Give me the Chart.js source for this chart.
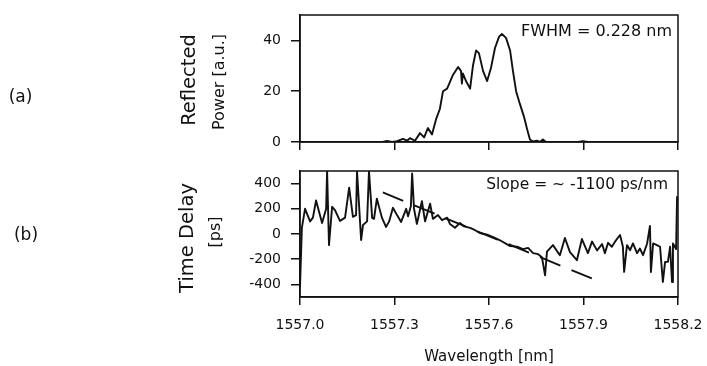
<!DOCTYPE html>
<html><head><meta charset="utf-8">
<script src="https://cdn.jsdelivr.net/npm/chart.js@4/dist/chart.umd.min.js"></script>
<style>
html,body{margin:0;padding:0;background:#fff;overflow:hidden;width:707px;height:366px}
canvas{position:absolute;left:0}
#ca{top:0}
#cb{top:160px}
</style></head><body>
<canvas id="ca" width="707" height="160"></canvas>
<canvas id="cb" width="707" height="212"></canvas>
<script>
// ---- data ----
const wavelengthTicks = [1557.0, 1557.3, 1557.6, 1557.9, 1558.2];
const powerTicks = [0, 20, 40];
const delayTicks = [-400, -200, 0, 200, 400];

const wavelengthA = [1557.000,1557.263,1557.276,1557.292,1557.308,1557.327,1557.340,1557.349,1557.365,1557.381,1557.394,1557.406,1557.419,1557.432,1557.444,1557.454,1557.467,1557.486,1557.502,1557.511,1557.514,1557.517,1557.527,1557.540,1557.549,1557.559,1557.568,1557.581,1557.594,1557.606,1557.619,1557.632,1557.641,1557.654,1557.667,1557.676,1557.686,1557.698,1557.711,1557.721,1557.730,1557.740,1557.752,1557.762,1557.771,1557.781,1557.883,1557.898,1557.914,1558.200];
const powerA = [0,0,0.4,0,0.3,1.2,0.5,1.5,0.5,3.5,1.8,5.5,3,9,13,20,21,26.5,29.5,28,23,27,24,21,30,36,35,28,24,29,37,41.5,42.5,41,36,28,20,15,10,5,1,0.2,0.5,0,1,0,0,0.3,0,0];

const wavelengthB = [1557.000,1557.006,1557.016,1557.032,1557.041,1557.051,1557.070,1557.083,1557.086,1557.092,1557.102,1557.111,1557.127,1557.143,1557.156,1557.168,1557.178,1557.181,1557.187,1557.194,1557.200,1557.213,1557.219,1557.229,1557.235,1557.244,1557.260,1557.273,1557.283,1557.295,1557.308,1557.321,1557.337,1557.343,1557.352,1557.356,1557.362,1557.371,1557.387,1557.397,1557.413,1557.422,1557.438,1557.451,1557.467,1557.476,1557.492,1557.508,1557.521,1557.540,1557.556,1557.571,1557.594,1557.613,1557.635,1557.667,1557.689,1557.708,1557.724,1557.740,1557.756,1557.768,1557.778,1557.784,1557.803,1557.825,1557.841,1557.857,1557.879,1557.895,1557.914,1557.927,1557.943,1557.959,1557.968,1557.978,1557.990,1558.000,1558.016,1558.025,1558.029,1558.038,1558.048,1558.057,1558.070,1558.079,1558.089,1558.102,1558.111,1558.114,1558.121,1558.133,1558.143,1558.152,1558.159,1558.168,1558.175,1558.181,1558.184,1558.194,1558.197];
const delayB = [-420,50,200,100,130,266,88,200,500,-88,216,190,104,130,368,136,150,500,250,-48,72,100,500,128,120,280,130,56,100,208,150,96,200,140,220,480,200,80,260,100,240,120,150,110,130,80,50,88,60,48,30,8,-5,-24,-50,-96,-100,-120,-110,-152,-160,-184,-328,-140,-88,-168,-32,-144,-208,-40,-152,-60,-130,-80,-152,-70,-101,-61,-8,-100,-301,-88,-128,-75,-152,-115,-168,-75,64,-301,-75,-88,-101,-381,-221,-221,-101,-381,-75,-120,300];

const slopeFitX = [1557.263, 1557.943];
const slopeFitY = [330, -370];

// ---- styling helpers ----
const FONT = "'DejaVu Sans', sans-serif";
const INK = '#111';
Chart.defaults.font.family = FONT;
Chart.defaults.color = INK;

const pts = (xs, ys) => xs.map((x, i) => ({x, y: ys[i]}));
const setTicks = arr => scale => { scale.ticks = arr.map(v => ({value: v})); };
const noPad = s => { s.paddingLeft = 0; s.paddingRight = 0; s.paddingTop = 0; s.paddingBottom = 0; };

const framePlugin = {
  id: 'frame',
  afterDraw(chart) {
    const {ctx, chartArea: a} = chart;
    ctx.save();
    ctx.strokeStyle = INK;
    ctx.lineWidth = 1.5;
    ctx.strokeRect(a.left, a.top, a.right - a.left, a.bottom - a.top);
    ctx.restore();
  }
};

const textPlugin = {
  id: 'texts',
  afterDraw(chart, args, opts) {
    const ctx = chart.ctx;
    (opts.items || []).forEach(t => {
      ctx.save();
      ctx.fillStyle = INK;
      ctx.font = t.size + 'px ' + FONT;
      ctx.textAlign = t.align || 'center';
      ctx.textBaseline = t.baseline || 'middle';
      ctx.translate(t.x, t.y);
      if (t.rot) ctx.rotate(t.rot);
      ctx.fillText(t.text, 0, 0);
      ctx.restore();
    });
  }
};

function xScale(showLabels, height, titleText) {
  return {
    type: 'linear', min: 1557.0, max: 1558.2,
    afterBuildTicks: setTicks(wavelengthTicks),
    afterFit: s => { s.height = height; noPad(s); },
    border: {display: true, color: INK, width: 1.5},
    grid: {drawOnChartArea: false, drawTicks: true, tickLength: 8, color: INK, lineWidth: 1.5},
    ticks: {display: showLabels, padding: 12, font: {size: 14}, color: INK, maxRotation: 0,
            callback: v => Number(v).toFixed(1)},
    title: titleText ? {display: true, text: titleText, font: {size: 15}, color: INK, padding: {top: 0, bottom: 6}} : {display: false}
  };
}
function yScale(min, max, tickArr) {
  return {
    type: 'linear', min, max,
    afterBuildTicks: setTicks(tickArr),
    afterFit: s => { s.width = 60; noPad(s); },
    border: {display: true, color: INK, width: 1.5},
    grid: {drawOnChartArea: false, drawTicks: true, tickLength: 9, color: INK, lineWidth: 1.5},
    ticks: {padding: 10, font: {size: 14}, color: INK}
  };
}
const lineStyle = {borderColor: INK, borderWidth: 1.9, pointRadius: 0, tension: 0, fill: false, borderJoinStyle: 'round'};

// ---- (a) reflected power ----
new Chart(document.getElementById('ca'), {
  type: 'line',
  data: {datasets: [Object.assign({label: 'Reflected power', data: pts(wavelengthA, powerA)}, lineStyle)]},
  options: {
    responsive: false, animation: false, devicePixelRatio: 1,
    layout: {padding: {left: 240, right: 29, top: 15, bottom: 8}},
    plugins: {legend: {display: false}, tooltip: {enabled: false},
      texts: {items: [
        {text: '(a)', x: 20.5, y: 97.5, size: 17},
        {text: 'Reflected', x: 195, y: 80, size: 19.5, rot: -Math.PI/2, baseline: 'alphabetic'},
        {text: 'Power [a.u.]', x: 224, y: 82, size: 16, rot: -Math.PI/2, baseline: 'alphabetic'},
        {text: 'FWHM = 0.228 nm', x: 672, y: 32, size: 16, align: 'right'}
      ]}},
    scales: {x: xScale(false, 10, null), y: yScale(0, 50, powerTicks)}
  },
  plugins: [framePlugin, textPlugin]
});

// ---- (b) time delay ----
new Chart(document.getElementById('cb'), {
  type: 'line',
  data: {datasets: [
    Object.assign({label: 'Time delay', data: pts(wavelengthB, delayB)}, lineStyle),
    Object.assign({label: 'Linear fit', data: pts(slopeFitX, slopeFitY)}, lineStyle, {borderDash: [22, 12]})
  ]},
  options: {
    responsive: false, animation: false, devicePixelRatio: 1,
    layout: {padding: {left: 240, right: 29, top: 11, bottom: 0}},
    plugins: {legend: {display: false}, tooltip: {enabled: false},
      texts: {items: [
        {text: '(b)', x: 26, y: 75.5, size: 17},
        {text: 'Time Delay', x: 192.5, y: 78, size: 19.5, rot: -Math.PI/2, baseline: 'alphabetic'},
        {text: '[ps]', x: 220, y: 72, size: 16, rot: -Math.PI/2, baseline: 'alphabetic'},
        {text: 'Slope = ~ -1100 ps/nm', x: 668, y: 25, size: 15.5, align: 'right'}
      ]}},
    scales: {x: xScale(true, 75, 'Wavelength [nm]'), y: yScale(-500, 500, delayTicks)}
  },
  plugins: [framePlugin, textPlugin]
});
</script>
</body></html>
